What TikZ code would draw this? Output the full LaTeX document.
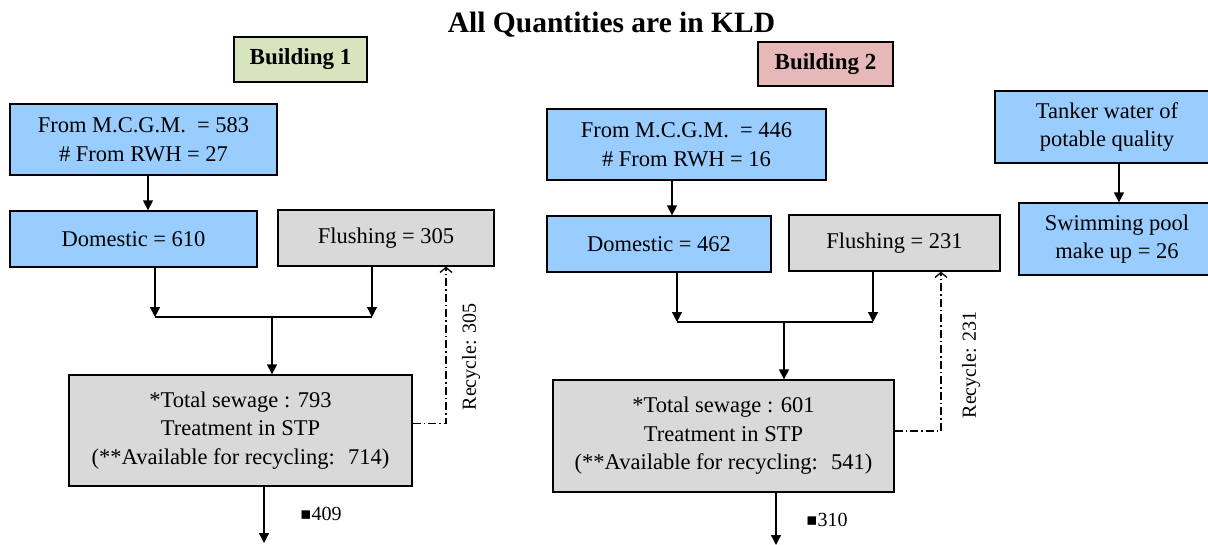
\documentclass[tikz,border=0pt]{standalone}
\usepackage{fontspec}
\setmainfont{Liberation Serif}
\newfontfamily\symfont{DejaVu Sans}
\usetikzlibrary{arrows.meta}

\definecolor{waterblue}{HTML}{99CCFF}
\definecolor{sewgray}{HTML}{D9D9D9}
\definecolor{bldgreen}{HTML}{D7E4BD}
\definecolor{bldpink}{HTML}{E6B9B8}

\newcommand{\bulletsq}{{\symfont\fontsize{17}{20}\selectfont\raisebox{1pt}{▪}}}

\begin{document}
\begin{tikzpicture}[x=1pt,y=-1pt,
  box/.style={draw=black, line width=1.3pt, inner sep=0pt, align=center,
    font=\fontsize{22.5}{28.5}\selectfont},
  bluebox/.style={box, fill=waterblue},
  graybox/.style={box, fill=sewgray},
  tagbox/.style={box, font=\fontsize{23}{28}\selectfont\bfseries},
  link/.style={line width=1.3pt, draw=black},
  arr/.style={link, -{Triangle[length=10pt,width=10pt]}},
  recyc/.style={link, line width=1.2pt, dash pattern=on 8pt off 3pt on 1.5pt off 3pt,
    -{Straight Barb[length=5pt,width=12pt,line width=1.3pt]}},
  note/.style={font=\fontsize{20}{24}\selectfont, inner sep=0pt},
  ]
\useasboundingbox (0,0) rectangle (1208,544);

% heading
\node[anchor=base, font=\fontsize{29.5}{34}\selectfont\bfseries, inner sep=0pt]
  (title) at (611.5,32) {All Quantities are in KLD};

% ---------------- Building 1 ----------------
\node[tagbox, fill=bldgreen, minimum width=133pt, minimum height=45pt]
  (b1) at (300.5,59.5) {Building 1};
\node[bluebox, minimum width=267pt, minimum height=71pt]
  (a1) at (143.5,139.5) {From M.C.G.M. \ = 583\\\# From RWH = 27};
\node[bluebox, minimum width=247pt, minimum height=56pt]
  (d1) at (133.5,239) {Domestic = 610};
\node[graybox, minimum width=216pt, minimum height=56pt]
  (f1) at (386,238) {Flushing = 305};
\node[graybox, minimum width=343pt, minimum height=111pt]
  (s1) at (240.5,430.5) {*Total sewage : 793\\Treatment in STP\\(**Available for recycling: \ 714)};

\coordinate (c1) at (148,0);
\coordinate (j1l) at (155,317);
\coordinate (j1r) at (372,317);
\coordinate (m1) at (272,317);
\coordinate (r1) at (446,0);
\coordinate (o1) at (264,543);

\draw[arr] (a1.south -| c1) -- (d1.north -| c1);
\draw[arr] (d1.south -| j1l) -- (j1l);
\draw[arr] (f1.south -| j1r) -- (j1r);
\draw[link] (j1l) -- (j1r);
\draw[arr] (m1) -- (s1.north -| m1);
\draw[recyc] ([yshift=7pt]s1.east) -| (f1.south -| r1);
\draw[arr] (s1.south -| o1) -- (o1);

\node[note, rotate=90] (rc1) at (471,357) {Recycle: 305};
\node[note, anchor=west] (q1) at (300,514) {\bulletsq409};

% ---------------- Building 2 ----------------
\node[tagbox, fill=bldpink, minimum width=135pt, minimum height=44pt]
  (b2) at (825.5,64) {Building 2};
\node[bluebox, minimum width=279pt, minimum height=71pt]
  (a2) at (686.5,144.5) {From M.C.G.M. \ = 446\\\# From RWH = 16};
\node[bluebox, minimum width=224pt, minimum height=56pt]
  (d2) at (659,244) {Domestic = 462};
\node[graybox, minimum width=211pt, minimum height=56pt]
  (f2) at (894.5,243) {Flushing = 231};
\node[graybox, minimum width=341pt, minimum height=112pt]
  (s2) at (723.5,436) {*Total sewage : 601\\Treatment in STP\\(**Available for recycling: \ 541)};

\coordinate (c2) at (672,0);
\coordinate (j2l) at (677,322);
\coordinate (j2r) at (873,322);
\coordinate (m2) at (784,322);
\coordinate (r2) at (941,0);
\coordinate (o2) at (776,545);

\draw[arr] (a2.south -| c2) -- (d2.north -| c2);
\draw[arr] (d2.south -| j2l) -- (j2l);
\draw[arr] (f2.south -| j2r) -- (j2r);
\draw[link] (j2l) -- (j2r);
\draw[arr] (m2) -- (s2.north -| m2);
\draw[recyc] ([yshift=5pt]s2.east) -| (f2.south -| r2);
\draw[arr] (s2.south -| o2) -- (o2);

\node[note, rotate=90] (rc2) at (971,365) {Recycle: 231};
\node[note, anchor=west] (q2) at (806,520) {\bulletsq310};

% ---------------- Swimming pool ----------------
\node[bluebox, minimum width=224pt, minimum height=72pt]
  (tk) at (1107,127) {Tanker water of\\potable quality};
\node[bluebox, minimum width=196pt, minimum height=72pt]
  (sp) at (1117,239) {Swimming pool\\make up = 26};
\coordinate (c3) at (1119,0);
\draw[arr] (tk.south -| c3) -- (sp.north -| c3);

\end{tikzpicture}
\end{document}
